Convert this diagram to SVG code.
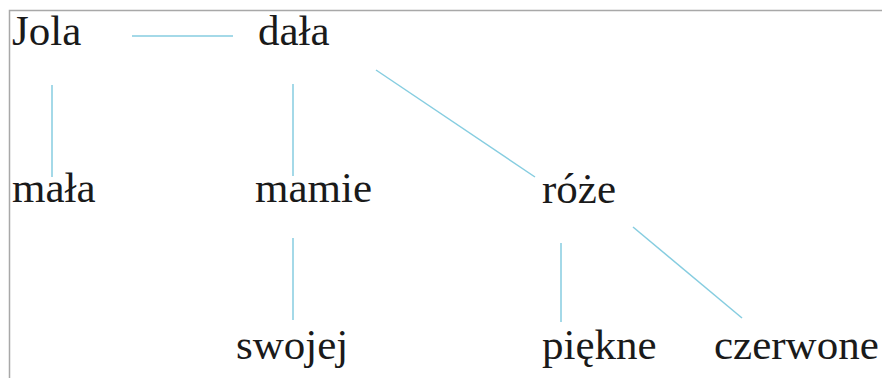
<svg xmlns="http://www.w3.org/2000/svg" width="882" height="378" viewBox="0 0 882 378">
<style>
.t{font-family:"Liberation Serif","Times New Roman",serif;font-size:43px;fill:#1a1a1a}
.c line{stroke:#86cde0;stroke-width:1.5;fill:none}
</style>
<rect x="0" y="0" width="882" height="378" fill="#ffffff"/>
<path d="M9.5 378 V10.5 H882" fill="none" stroke="#a8a8a8" stroke-width="1.5"/>
<g class="c" id="connectors">
<line x1="132" y1="36" x2="233" y2="36"/>
<line x1="52" y1="85" x2="52" y2="177"/>
<line x1="293" y1="84" x2="293" y2="176"/>
<line x1="376" y1="70" x2="535" y2="177"/>
<line x1="293" y1="238" x2="293" y2="320"/>
<line x1="561" y1="243" x2="561" y2="322"/>
<line x1="633" y1="227" x2="742" y2="318"/>
</g>
<g id="n-jola"><text class="t" x="12" y="45">Jola</text></g>
<g id="n-dala"><text class="t" x="258" y="45">dała</text></g>
<g id="n-mala"><text class="t" x="12" y="202">mała</text></g>
<g id="n-mamie"><text class="t" x="255" y="202">mamie</text></g>
<g id="n-roze"><text class="t" x="542" y="203">róże</text></g>
<g id="n-swojej"><text class="t" x="236" y="359">swojej</text></g>
<g id="n-piekne"><text class="t" x="542" y="359">piękne</text></g>
<g id="n-czerwone"><text class="t" x="714" y="359">czerwone</text></g>
</svg>
